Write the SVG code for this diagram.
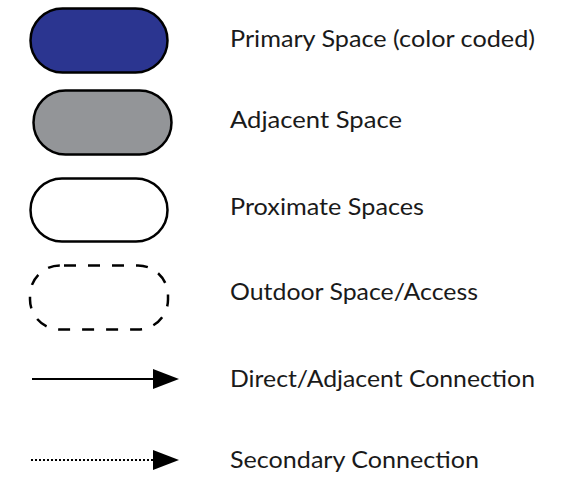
<svg xmlns="http://www.w3.org/2000/svg" width="572" height="479" viewBox="0 0 572 479">
<style>
.shape{stroke:#000;stroke-width:2.5}
.lbl{font-family:"Lato","Liberation Sans",sans-serif;font-size:22.5px;font-weight:400;fill:#1a1a1a}
.conn{stroke:#000;stroke-width:2.2;fill:none}
</style>
<defs>
<marker id="ah" markerUnits="userSpaceOnUse" markerWidth="26" markerHeight="20" refX="0" refY="10" orient="auto">
<path d="M0,0 L26,10 L0,20 Z" fill="#000"/>
</marker>
</defs>
<rect width="572" height="479" fill="#fff"/>
<g id="primary">
<rect class="shape" x="30.5" y="8.5" width="137" height="64" rx="32" fill="#2b3590"/>
<text class="lbl" x="230" y="47" textLength="305" lengthAdjust="spacingAndGlyphs">Primary Space (color coded)</text>
</g>
<g id="adjacent">
<rect class="shape" x="33.5" y="90.5" width="138" height="64" rx="32" fill="#939598"/>
<text class="lbl" x="230" y="128" textLength="172" lengthAdjust="spacingAndGlyphs">Adjacent Space</text>
</g>
<g id="proximate">
<rect class="shape" x="30.5" y="178.5" width="137" height="63" rx="31.5" fill="#fff"/>
<text class="lbl" x="230" y="215" textLength="194" lengthAdjust="spacingAndGlyphs">Proximate Spaces</text>
</g>
<g id="outdoor">
<rect x="30" y="265.5" width="138" height="64" rx="30" fill="none" stroke="#000" stroke-width="2.5" stroke-dasharray="12,12" stroke-dashoffset="-4"/>
<text class="lbl" x="230" y="300" textLength="248" lengthAdjust="spacingAndGlyphs">Outdoor Space/Access</text>
</g>
<g id="connectors">
<line class="conn" x1="32" y1="379" x2="153" y2="379" marker-end="url(#ah)"/>
<line class="conn" x1="31" y1="460" x2="153" y2="460" stroke-dasharray="2,2" marker-end="url(#ah)"/>
</g>
<g id="direct">
<text class="lbl" x="230" y="387" textLength="305" lengthAdjust="spacingAndGlyphs">Direct/Adjacent Connection</text>
</g>
<g id="secondary">
<text class="lbl" x="230" y="468" textLength="249" lengthAdjust="spacingAndGlyphs">Secondary Connection</text>
</g>
</svg>
